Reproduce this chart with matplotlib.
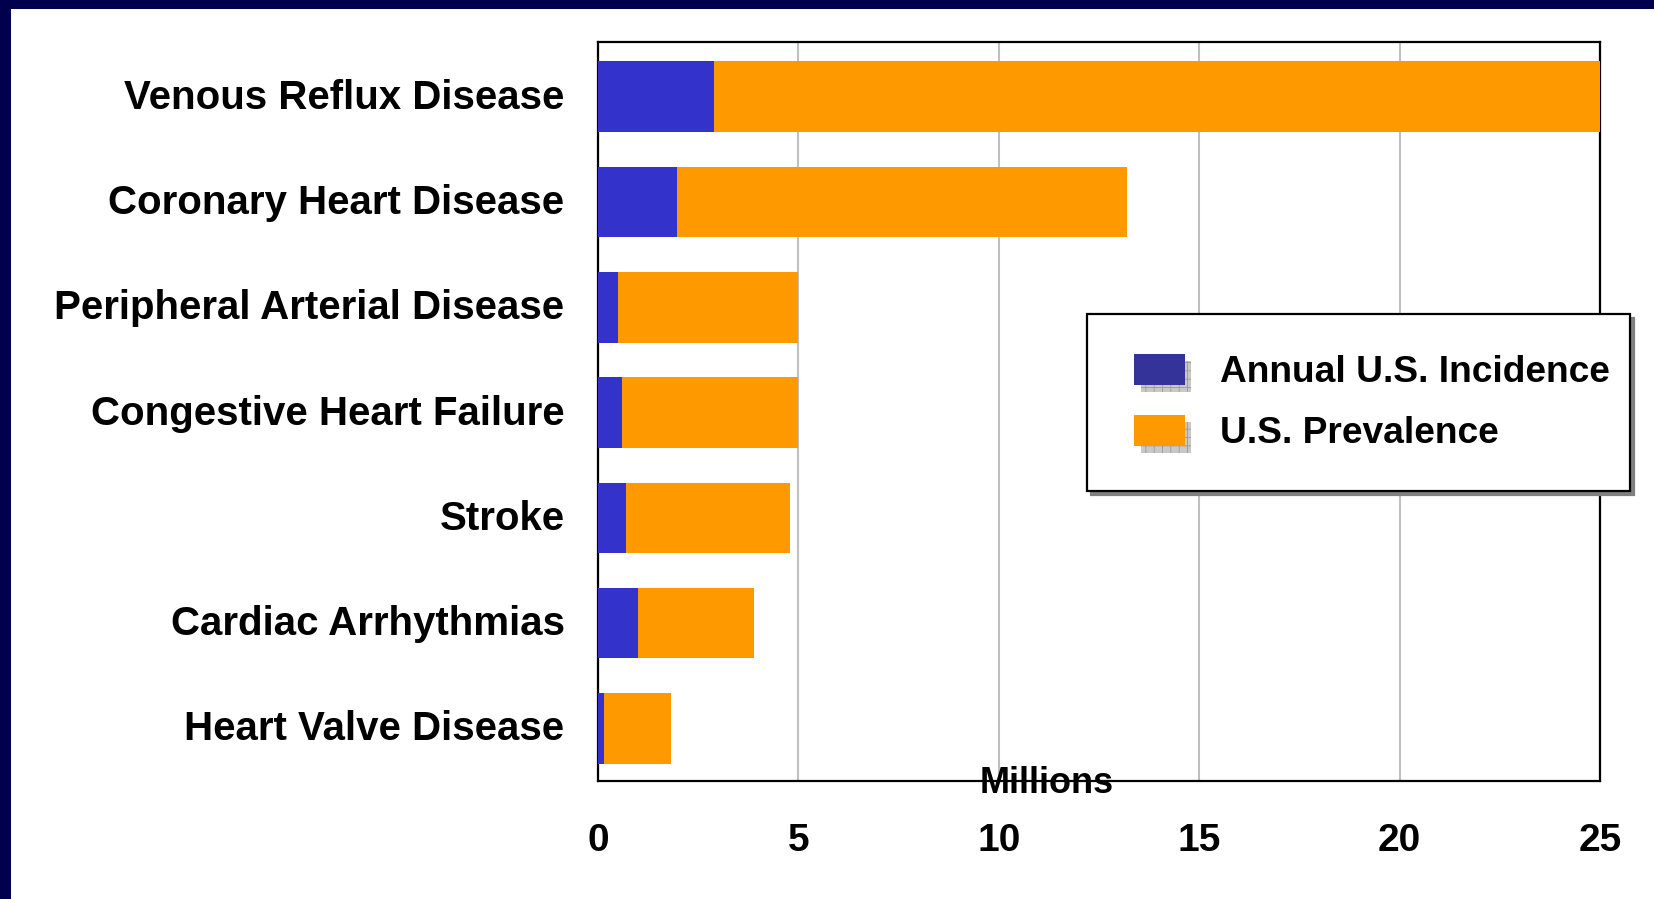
import matplotlib

matplotlib.use("Agg")
import matplotlib.pyplot as plt
import matplotlib.transforms as mtransforms
from matplotlib.legend_handler import HandlerBase
from matplotlib.patches import Patch, Rectangle

categories = [
    "Venous Reflux Disease",
    "Coronary Heart Disease",
    "Peripheral Arterial Disease",
    "Congestive Heart Failure",
    "Stroke",
    "Cardiac Arrhythmias",
    "Heart Valve Disease",
]
# millions (prevalence segment is stacked after incidence)
incidence = [2.9, 1.97, 0.5, 0.6, 0.7, 1.0, 0.15]
prevalence = [22.1, 11.23, 4.5, 4.4, 4.1, 2.9, 1.67]
x_ticks = [0, 5, 10, 15, 20, 25]

BLUE = "#3333cc"
BLUE_KEY = "#333399"
ORANGE = "#ff9900"
NAVY = "#00004d"


class ShadowSwatch(HandlerBase):
    """Legend key: coloured square over a gray, grid-hatched shadow."""

    lead = 5  # px of empty space before the swatch

    def create_artists(self, legend, orig_handle, xdescent, ydescent,
                       width, height, fontsize, trans):
        x0 = -xdescent + self.lead
        w = width - self.lead
        off = 0.22 * height
        shadow = Rectangle((x0 + off, -ydescent - off), w, height,
                           facecolor="#c8c8c8", edgecolor="#9a9a9a",
                           hatch="++", lw=0, transform=trans)
        face = Rectangle((x0, -ydescent), w, height,
                         facecolor=orig_handle.get_facecolor(), lw=0,
                         transform=trans)
        return [shadow, face]


plt.rcParams.update({"font.family": "Liberation Sans", "font.weight": "bold",
                     "hatch.linewidth": 0.6})

fig = plt.figure(figsize=(16.54, 8.99), dpi=100)
fig.patch.set_facecolor("white")

# dark frame along top and left edge
fig.patches.append(Rectangle((0, 0.99), 1, 0.01, transform=fig.transFigure,
                             facecolor=NAVY, lw=0, zorder=-5))
fig.patches.append(Rectangle((0, 0), 0.0066, 1, transform=fig.transFigure,
                             facecolor=NAVY, lw=0, zorder=-5))

ax = fig.add_axes([0.3615, 0.1312, 0.6059, 0.8221])
y = range(len(categories))
ax.barh(y, incidence, height=0.67, color=BLUE, lw=0, zorder=3)
ax.barh(y, prevalence, left=incidence, height=0.67, color=ORANGE, lw=0,
        zorder=3)

ax.set_xlim(0, 25)
ax.set_ylim(len(categories) - 0.5, -0.52)
ax.set_xticks(x_ticks)
ax.set_yticks(list(y))
ax.set_yticklabels(categories, fontsize=29, fontweight="bold")
ax.tick_params(axis="x", length=0, pad=30, labelsize=28)
ax.tick_params(axis="y", length=0, pad=24)
# nudge category labels up a little so caps sit centred on the bars
nudge = mtransforms.ScaledTranslation(0, 3 / 100, fig.dpi_scale_trans)
for lbl in ax.get_yticklabels():
    lbl.set_transform(lbl.get_transform() + nudge)
ax.xaxis.grid(True, color="#c0c0c0", lw=1.5, zorder=0)
ax.set_axisbelow(True)
for s in ax.spines.values():
    s.set_linewidth(1.6)
    s.set_color("black")

fig.text(0.6327, 0.1290, "Millions", ha="center", va="center", fontsize=26,
         fontweight="bold", zorder=10)

# legend box spans x 1087..1630 px, top at y 314 px
leg_left, leg_right, leg_top = 1087 / 1654, 1630 / 1654, 1 - 314 / 899
handles = [Patch(facecolor=BLUE_KEY), Patch(facecolor=ORANGE)]
leg = ax.legend(
    handles,
    ["Annual U.S. Incidence", "U.S. Prevalence"],
    handler_map={Patch: ShadowSwatch()},
    loc="upper left",
    mode="expand",
    bbox_to_anchor=(leg_left, leg_top - 0.2, leg_right - leg_left, 0.2),
    bbox_transform=fig.transFigure,
    fontsize=26.7,
    frameon=True,
    fancybox=False,
    shadow={"ox": 3, "oy": -3, "color": "#808080", "alpha": 1},
    edgecolor="black",
    framealpha=1,
    borderpad=1.08,
    handlelength=1.55,
    handleheight=0.91,
    handletextpad=0.97,
    labelspacing=0.66,
    borderaxespad=0,
)
leg.get_frame().set_linewidth(1.6)
leg.set_zorder(10)

fig.savefig("out.png", dpi=100)
